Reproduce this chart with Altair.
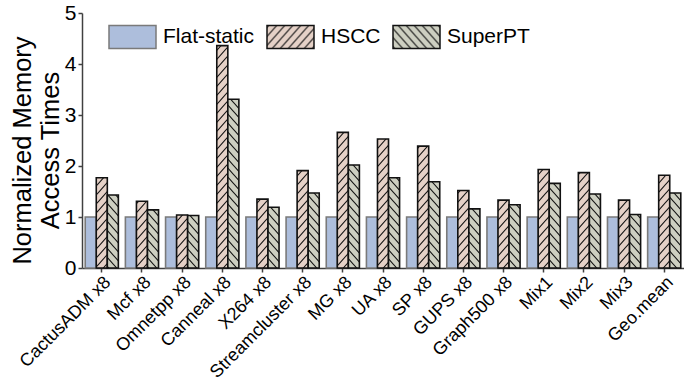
import altair as alt
import pandas as pd
import jinja2

categories = ["CactusADM x8", "Mcf x8", "Omnetpp x8", "Canneal x8", "X264 x8",
              "Streamcluster x8", "MG x8", "UA x8", "SP x8", "GUPS x8",
              "Graph500 x8", "Mix1", "Mix2", "Mix3", "Geo.mean"]
series = ["Flat-static", "HSCC", "SuperPT"]
flat_static = [1.0, 1.0, 1.0, 1.0, 1.0, 1.0, 1.0, 1.0, 1.0, 1.0, 1.0, 1.0, 1.0, 1.0, 1.0]
hscc = [1.77, 1.31, 1.04, 4.36, 1.35, 1.91, 2.66, 2.53, 2.39, 1.52, 1.33, 1.93, 1.87, 1.33, 1.82]
superpt = [1.43, 1.14, 1.03, 3.31, 1.19, 1.47, 2.02, 1.77, 1.69, 1.16, 1.24, 1.66, 1.45, 1.05, 1.47]
y_ticks = [0, 1, 2, 3, 4, 5]

df = pd.DataFrame({
    "category": categories * 3,
    "series": [s for s in series for _ in categories],
    "value": flat_static + hscc + superpt,
})

FONT = "Liberation Sans"
fill_range = ["#adbedc", "url(#hatchF)", "url(#hatchB)"]
stroke_range = ["#7a7a7a", "#111111", "#111111"]
legend = alt.Legend(
    title=None, orient="none", legendX=26, legendY=-1, direction="horizontal",
    symbolType="M-1,-0.49H1V0.49H-1Z", symbolSize=2209, symbolStrokeWidth=1.5,
    labelFontSize=21, labelFont=FONT, labelColor="#000000", labelOffset=6,
    columnPadding=9, padding=0, labelLimit=300,
)

chart = alt.Chart(df).mark_bar(strokeWidth=1.6).encode(
    x=alt.X("category:N", sort=categories,
            scale=alt.Scale(paddingInner=0.175, paddingOuter=0.08),
            axis=alt.Axis(title=None, labelAngle=-45, labelFontSize=18, labelFont=FONT,
                          labelColor="#000000", labelAlign="right", labelBaseline="top",
                          labelPadding=1, tickSize=4, tickColor="#404040", tickWidth=1.5,
                          domainColor="#404040", domainWidth=1.5, labelLimit=300)),
    xOffset=alt.XOffset("series:N", sort=series,
                        scale=alt.Scale(paddingInner=0, paddingOuter=0)),
    y=alt.Y("value:Q", scale=alt.Scale(domain=[0, 5], nice=False),
            axis=alt.Axis(values=y_ticks, grid=False, title=["Normalized Memory", "Access Times"],
                          titleFontSize=25.5, titleFont=FONT, titleFontWeight="normal",
                          titleColor="#000000", titleAngle=-90, titleBaseline="top",
                          titleAlign="center", titleX=-72, titleY=137, titleLineHeight=28.5,
                          labelFontSize=21, labelFont=FONT, labelColor="#000000",
                          labelPadding=2, tickSize=4, tickColor="#404040", tickWidth=1.5,
                          domainColor="#404040", domainWidth=1.5)),
    fill=alt.Fill("series:N", sort=series,
                  scale=alt.Scale(domain=series, range=fill_range), legend=legend),
    stroke=alt.Stroke("series:N", sort=series,
                      scale=alt.Scale(domain=series, range=stroke_range), legend=legend),
).properties(
    width=602, height=255,
    autosize=alt.AutoSizeParams(type="none"),
    padding={"left": 82, "top": 13, "right": 0, "bottom": 117},
).configure_view(strokeWidth=0)

PATTERNS = """
<svg width="0" height="0" style="position:absolute;left:0;top:0" aria-hidden="true">
  <defs>
    <pattern id="hatchF" patternUnits="userSpaceOnUse" width="8" height="9">
      <rect x="0" y="0" width="8" height="9" fill="#e5d1c7"/>
      <path d="M0,9 L8,0 M-1,1.125 L1,-1.125 M7,10.125 L9,7.875" stroke="#111" stroke-width="1.1"/>
    </pattern>
    <pattern id="hatchB" patternUnits="userSpaceOnUse" width="8" height="9">
      <rect x="0" y="0" width="8" height="9" fill="#cdcfc1"/>
      <path d="M0,0 L8,9 M-1,7.875 L1,10.125 M7,-1.125 L9,1.125" stroke="#111" stroke-width="1.1"/>
    </pattern>
  </defs>
</svg>
"""

embed = {"renderer": "svg", "actions": False}
html = chart.to_html(embed_options=embed)
if "<body>" in html:
    html = html.replace("<body>", "<body>\n" + PATTERNS, 1)
else:
    html = PATTERNS + html
tpl = jinja2.Template("{% raw %}" + html + "{% endraw %}")

chart.save("out.html", embed_options=embed, template=tpl)
